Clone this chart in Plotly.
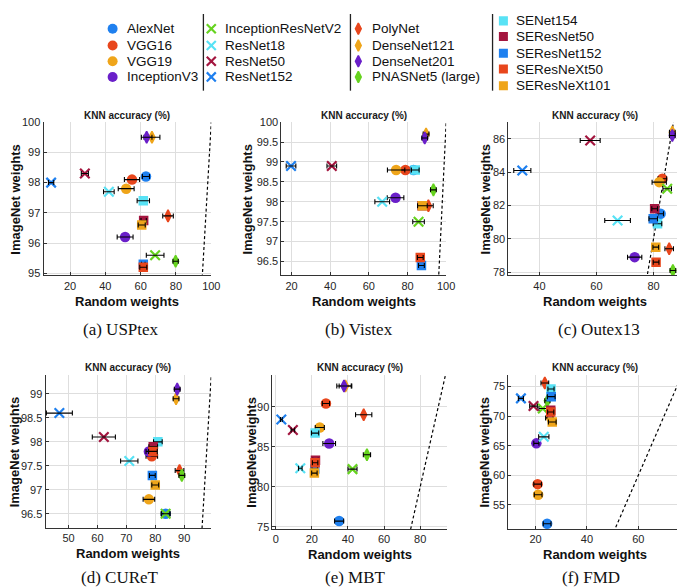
import plotly.graph_objects as go

W, H = 685, 587

# ---------------- data ----------------
models = ["AlexNet", "VGG16", "VGG19", "InceptionV3",
          "InceptionResNetV2", "ResNet18", "ResNet50", "ResNet152",
          "PolyNet", "DenseNet121", "DenseNet201", "PNASNet5 (large)",
          "SENet154", "SEResNet50", "SEResNet152", "SEResNeXt50", "SEResNeXt101"]

usptex_random = [63.0, 55.1, 51.8, 51.2, 68.2, 42.0, 28.4, 9.3, 75.5, 66.4, 63.4, 79.8, 61.5, 61.7, 61.5, 61.5, 60.6]
usptex_imagenet = [98.2, 98.1, 97.8, 96.2, 95.6, 97.7, 98.3, 98.0, 96.9, 99.5, 99.5, 95.4, 97.4, 96.75, 95.3, 95.2, 96.6]
usptex_err = [2.0, 4.3, 4.5, 4.5, 5.0, 3.0, 2.0, 1.5, 3.0, 4.5, 3.0, 1.5, 3.5, 1.5, 1.0, 2.0, 2.0]

vistex_random = [83.1, 78.9, 74.1, 73.8, 85.7, 66.9, 40.8, 19.7, 90.8, 89.6, 88.9, 93.4, 84.0, 87.5, 87.2, 86.6, 87.7]
vistex_imagenet = [98.8, 98.8, 98.8, 98.1, 97.5, 98.0, 98.9, 98.9, 97.9, 99.7, 99.6, 98.3, 98.8, 97.9, 96.4, 96.6, 97.9]
vistex_err = [2.5, 3.0, 4.5, 4.3, 3.0, 3.8, 2.5, 2.5, 2.5, 1.5, 1.5, 1.5, 2.0, 1.5, 1.5, 1.5, 2.5]

outex_random = [82.5, 83.1, 82.0, 73.4, 84.8, 67.4, 57.8, 34.0, 85.5, 86.6, 86.6, 86.8, 81.4, 80.4, 79.9, 80.9, 80.8]
outex_imagenet = [81.5, 83.6, 83.4, 78.9, 83.0, 81.1, 85.9, 84.1, 79.4, 86.4, 86.2, 78.1, 80.9, 81.8, 81.2, 78.6, 79.5]
outex_err = [1.0, 1.5, 2.5, 2.5, 1.5, 4.5, 3.5, 3.0, 1.5, 1.0, 1.0, 1.0, 1.5, 1.0, 1.5, 1.0, 1.0]

curet_random = [83.6, 78.8, 77.8, 77.8, 83.6, 71.0, 62.2, 46.8, 88.4, 87.2, 87.6, 89.2, 80.9, 79.3, 79.0, 79.2, 80.0]
curet_imagenet = [96.5, 97.7, 96.8, 97.8, 96.5, 97.6, 98.1, 98.6, 97.4, 98.9, 99.1, 97.3, 98.0, 97.9, 97.3, 97.8, 97.1]
curet_err = [1.5, 2.0, 2.0, 1.0, 1.5, 3.0, 4.0, 4.5, 1.5, 1.0, 1.0, 1.0, 1.5, 1.5, 1.0, 1.5, 1.2]

mbt_random = [35.1, 27.8, 24.4, 29.6, 42.5, 13.6, 9.5, 3.1, 48.7, 38.6, 37.8, 50.5, 21.8, 22.0, 21.6, 21.8, 21.4]
mbt_imagenet = [75.7, 90.4, 87.4, 85.4, 82.2, 82.3, 87.1, 88.4, 89.0, 92.6, 92.6, 84.0, 86.7, 83.3, 82.2, 83.0, 81.7]
mbt_err = [2.5, 2.0, 2.5, 3.5, 2.5, 1.0, 1.0, 0.5, 4.5, 3.5, 4.0, 2.0, 2.0, 1.5, 1.5, 1.5, 1.5]

fmd_random = [24.5, 20.8, 21.0, 20.3, 22.8, 23.2, 19.2, 14.3, 23.6, 25.4, 25.6, 24.6, 26.0, 25.9, 26.1, 25.9, 26.5]
fmd_imagenet = [51.8, 58.5, 56.7, 65.4, 71.3, 66.5, 71.7, 73.0, 75.6, 69.7, 70.2, 72.6, 74.6, 71.0, 73.3, 70.7, 69.0]
fmd_err = [1.5, 1.5, 1.5, 1.0, 1.5, 2.0, 1.5, 1.0, 1.5, 1.5, 1.0, 1.0, 1.2, 1.2, 1.5, 1.2, 1.5]

captions = ["(a) USPtex", "(b) Vistex", "(c) Outex13", "(d) CUReT", "(e) MBT", "(f) FMD"]

usptex_xticks = [20, 40, 60, 80, 100]
usptex_yticks = [95, 96, 97, 98, 99, 100]
vistex_xticks = [20, 40, 60, 80, 100]
vistex_yticks = [96.5, 97, 97.5, 98, 98.5, 99, 99.5, 100]
outex_xticks = [40, 60, 80]
outex_yticks = [78, 80, 82, 84, 86]
curet_xticks = [50, 60, 70, 80, 90]
curet_yticks = [96.5, 97, 97.5, 98, 98.5, 99]
mbt_xticks = [0, 20, 40, 60, 80]
mbt_yticks = [75, 80, 85, 90]
fmd_xticks = [20, 40, 60]
fmd_yticks = [55, 60, 65, 70, 75]

# ---------------- styles ----------------
BLUE = "#1f80ef"; RED = "#e8461c"; ORANGE = "#efa51a"; PURPLE = "#6a1fc9"
GREEN = "#66d31f"; CYAN = "#58e2f5"; CRIMSON = "#a3163f"
colors = [BLUE, RED, ORANGE, PURPLE, GREEN, CYAN, CRIMSON, BLUE,
          RED, ORANGE, PURPLE, GREEN, CYAN, CRIMSON, BLUE, RED, ORANGE]
families = ["circle"] * 4 + ["x"] * 4 + ["diamond"] * 4 + ["square"] * 5

SANS = "Liberation Sans, Arial, sans-serif"
SERIF = "Liberation Serif, Times New Roman, serif"
AX = "#333333"


def marker_style(fam, col, scale=1.0):
    if fam == "circle":
        return dict(symbol="circle", size=10.5 * scale, color=col, line=dict(width=0))
    if fam == "x":
        return dict(symbol="x-thin", size=9.5 * scale, color=col, line=dict(width=2.2, color=col))
    if fam == "diamond":
        return dict(symbol="diamond-tall", size=8.5 * scale, color=col, line=dict(width=1.6, color=col))
    return dict(symbol="square", size=9.5 * scale, color=col, line=dict(width=0))


def px(x):
    return x / W


def py(y):
    return 1 - y / H


panels = [
    dict(x=usptex_random, y=usptex_imagenet, e=usptex_err, xd=(36, 206), yd=(110, 266),
         xr=(5, 100), yr=(94.93, 100), xt=usptex_xticks, yt=usptex_yticks,
         cap=(114, 321), ytx=8),
    dict(x=vistex_random, y=vistex_imagenet, e=vistex_err, xd=(277, 444), yd=(110, 266),
         xr=(14.7, 100), yr=(96.15, 100), xt=vistex_xticks, yt=vistex_yticks,
         cap=(356, 321), ytx=243),
    dict(x=outex_random, y=outex_imagenet, e=outex_err, xd=(507, 683), yd=(110, 266),
         xr=(29.1, 90), yr=(77.8, 87.0), xt=outex_xticks, yt=outex_yticks,
         cap=(599, 321), ytx=484),
    dict(x=curet_random, y=curet_imagenet, e=curet_err, xd=(38, 206), yd=(367, 523),
         xr=(42, 99.4), yr=(96.2, 99.4), xt=curet_xticks, yt=curet_yticks,
         cap=(113, 573), ytx=7),
    dict(x=mbt_random, y=mbt_imagenet, e=mbt_err, xd=(268, 445), yd=(367, 524),
         xr=(-1.8, 94.9), yr=(74.7, 94.0), xt=mbt_xticks, yt=mbt_yticks,
         cap=(352, 573), ytx=247),
    dict(x=fmd_random, y=fmd_imagenet, e=fmd_err, xd=(507, 683), yd=(367, 524),
         xr=(9.4, 77), yr=(50.9, 77), xt=fmd_xticks, yt=fmd_yticks,
         cap=(591, 573), ytx=483),
]

fig = go.Figure()
layout = dict(width=W, height=H, margin=dict(l=0, r=0, t=0, b=0),
              paper_bgcolor="white", plot_bgcolor="white", showlegend=False)
annotations = []
shapes = []

for i, p in enumerate(panels):
    k = "" if i == 0 else str(i + 1)
    xa, ya = "x" + k, "y" + k
    axis_common = dict(showgrid=True, gridcolor="#dedede", gridwidth=1, zeroline=False,
                       showline=True, linecolor=AX, linewidth=1, ticks="inside",
                       ticklen=3, tickcolor=AX, tickfont=dict(family=SANS, size=11, color="#262626"))
    layout["xaxis" + k] = dict(domain=[px(p["xd"][0]), px(p["xd"][1])], range=list(p["xr"]),
                               tickvals=p["xt"], anchor=ya, **axis_common)
    layout["yaxis" + k] = dict(domain=[py(p["yd"][1]), py(p["yd"][0])], range=list(p["yr"]),
                               tickvals=p["yt"], anchor=xa, **axis_common)
    # identity line y = x
    lo = min(p["xr"][0], p["yr"][0]); hi = max(p["xr"][1], p["yr"][1])
    fig.add_trace(go.Scatter(x=[lo, hi], y=[lo, hi], mode="lines", xaxis=xa, yaxis=ya,
                             line=dict(color="black", width=1.2, dash="3px,2.5px"),
                             hoverinfo="skip"))
    for j, name in enumerate(models):
        fig.add_trace(go.Scatter(x=[p["x"][j]], y=[p["y"][j]], mode="markers", name=name,
                                 xaxis=xa, yaxis=ya, marker=marker_style(families[j], colors[j])))
        fig.add_trace(go.Scatter(x=[p["x"][j]], y=[p["y"][j]], mode="markers",
                                 xaxis=xa, yaxis=ya, hoverinfo="skip",
                                 marker=dict(size=2, opacity=0),
                                 error_x=dict(type="data", array=[p["e"][j]], color="black",
                                              thickness=1.1, width=2.5)))
    cx = (p["xd"][0] + p["xd"][1]) / 2
    cy = (p["yd"][0] + p["yd"][1]) / 2
    annotations.append(dict(text="<b>KNN accuracy (%)</b>", x=px(cx), y=py(p["yd"][0] - 7),
                            xref="paper", yref="paper", showarrow=False, xanchor="center",
                            yanchor="middle", font=dict(family=SANS, size=10, color="#1a1a1a")))
    annotations.append(dict(text="<b>Random weights</b>", x=px(cx), y=py(p["yd"][1] + 26),
                            xref="paper", yref="paper", showarrow=False, xanchor="center",
                            yanchor="middle", font=dict(family=SANS, size=13, color="#111111")))
    annotations.append(dict(text="<b>ImageNet weights</b>", x=px(p["ytx"]), y=py(cy),
                            xref="paper", yref="paper", showarrow=False, xanchor="center",
                            yanchor="middle", textangle=-90,
                            font=dict(family=SANS, size=13, color="#111111")))
    annotations.append(dict(text=captions[i], x=px(p["cap"][0]), y=py(p["cap"][1]),
                            xref="paper", yref="paper", showarrow=False, xanchor="center",
                            yanchor="middle", font=dict(family=SERIF, size=17, color="#111111")))

# ---------------- legend (4 columns) ----------------
legend_cols = [[0, 1, 2, 3], [4, 5, 6, 7], [8, 9, 10, 11], [12, 13, 14, 15, 16]]
col_marker_x = [106, 206, 355, 502]
col_text_x = [119, 218, 367, 513]
rows4 = [15, 32, 48, 64]
rows5 = [7, 23, 40, 56, 73]
sep_x = [198, 347, 491]

layout["xaxis7"] = dict(domain=[0, 1], range=[0, W], visible=False, anchor="y7")
layout["yaxis7"] = dict(domain=[py(85), 1], range=[85, 0], visible=False, anchor="x7")
for c, idxs in enumerate(legend_cols):
    rows = rows5 if len(idxs) == 5 else rows4
    for r, j in enumerate(idxs):
        fig.add_trace(go.Scatter(x=[col_marker_x[c]], y=[rows[r]], mode="markers",
                                 xaxis="x7", yaxis="y7", hoverinfo="skip",
                                 marker=marker_style(families[j], colors[j], 0.95)))
        annotations.append(dict(text=models[j], x=col_text_x[c], y=rows[r], xref="x7", yref="y7",
                                showarrow=False, xanchor="left", yanchor="middle",
                                font=dict(family=SANS, size=13.5, color="#111111")))
for sx in sep_x:
    shapes.append(dict(type="line", xref="paper", yref="paper", x0=px(sx), x1=px(sx),
                       y0=py(78), y1=py(0), line=dict(color="#222222", width=1.3)))

layout["annotations"] = annotations
layout["shapes"] = shapes
fig.update_layout(**layout)
fig.write_html("out.html")
